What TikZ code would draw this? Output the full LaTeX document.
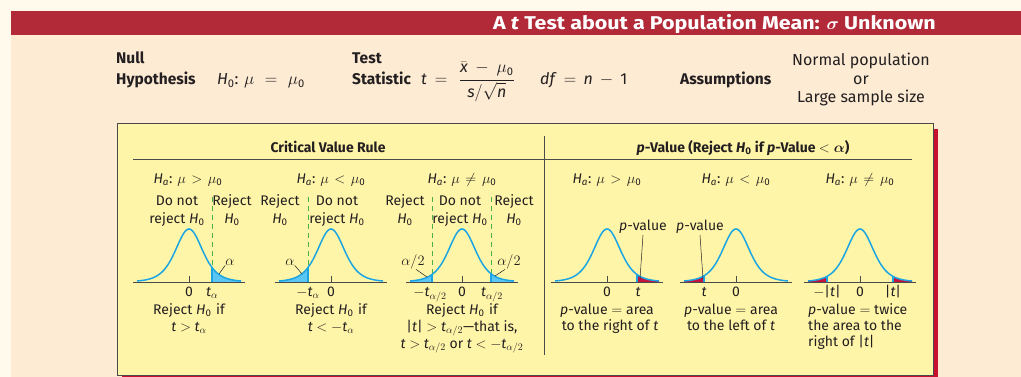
\documentclass[tikz,border=0pt]{standalone}
\usepackage{amsmath}
\usepackage{fontspec}
\setmainfont{Fira Sans}
\newfontfamily\titlefont[FakeStretch=1.16]{Fira Sans}
\definecolor{outerbg}{HTML}{FFFAEC}
\definecolor{peach}{HTML}{FDEBD4}
\definecolor{band}{HTML}{B22A38}
\definecolor{boxy}{HTML}{FFF5A9}
\definecolor{shadowred}{HTML}{C8102E}
\definecolor{curveblue}{HTML}{1BA6E3}
\definecolor{tailblue}{HTML}{5CC6F2}
\definecolor{pred}{HTML}{C4123F}
\definecolor{dgreen}{HTML}{4DAF4A}
\definecolor{ink}{HTML}{231F20}
\definecolor{rulegray}{HTML}{4A4A4A}
\newcommand\Hz{\textit{H}$_{\text{0}}$}
\newcommand\Ha{\textit{H}$_{\textit{a}}$}
\newcommand\mz{\mu_{\text{0}}}
\newcommand\tv{\textit{t}}
\newcommand\xs{\mkern2mu}
\newcommand\bellcurve[2]{\draw[curve] plot[domain=-52:52,samples=81,smooth] ({#1+\x},{#2-bell(\x)});}
\newcommand\tailR[4]{%
 \fill[#4] ({#1+#3},#2) -- plot[domain=#3:52,samples=40] ({#1+\x},{#2-bell(\x)}) -- ({#1+52},#2) -- cycle;}
\newcommand\tailL[4]{%
 \fill[#4] ({#1-52},#2) -- plot[domain=-52:-#3,samples=40] ({#1+\x},{#2-bell(\x)}) -- ({#1-#3},#2) -- cycle;}
\newcommand\edge[3]{\draw[curveblue,line width=1.3pt] ({#1+#3},#2) -- ({#1+#3},{#2-bell(#3)});}
\begin{document}
\begin{tikzpicture}[x=1pt,y=-1pt, font=\fontsize{14}{16}\selectfont, text=ink,
  declare function={bell(\d)=53/(1+(\d)^2/980)^3;},
  curve/.style={curveblue, line width=1.5pt},
  axisline/.style={rulegray, line width=0.9pt},
  greendash/.style={dgreen, line width=0.8pt, dash pattern=on 5pt off 4pt},
  lbl/.style={inner sep=0pt, align=center},
  leader/.style={ink, line width=0.5pt},
  hdr/.style={lbl, font=\fontsize{15.5}{17}\selectfont\bfseries},
  hreg/.style={lbl, font=\fontsize{16}{18}\selectfont}]
\useasboundingbox (0,0) rectangle (1021,377);
% background
\fill[outerbg] (0,0) rectangle (1021,377);
\fill[peach] (11,35) rectangle (1021,377);
\fill[band] (11,11) rectangle (1021,35);
\node[lbl, text=white, anchor=base east, font=\titlefont\fontsize{18.5}{20}\selectfont\bfseries] (title) at (936,30)
  {A \textit{t} Test about a Population Mean: $\boldsymbol{\sigma}$ Unknown};
% header row
\node[hdr, anchor=base west] (null) at (116,63.5) {Null};
\node[hdr, anchor=base west] (hyp) at (116,84.5) {Hypothesis};
\node[hreg, anchor=base west] (h0) at (217,84.5) {\Hz: $\mu \mkern6mu=\mkern6mu \mz$};
\node[hdr, anchor=base west] (test) at (352,63.5) {Test};
\node[hdr, anchor=base west] (stat) at (352,84.5) {Statistic};
\node[hreg, anchor=base west] (formula) at (421,84.5)
  {\tv{} $\mkern4mu=\mkern7mu \dfrac{\bar{\textit{x}} \mkern4mu-\mkern4mu \mz}{\textit{s}/\sqrt{\textit{n}}}$};
\node[hreg, anchor=base west] (df) at (540,84.5) {\textit{df} $\mkern3mu=\mkern3mu$ \textit{n} $\mkern3mu-\mkern3mu$ 1};
\node[hdr, anchor=base west] (assum) at (680,84.5) {Assumptions};
\node[hreg, anchor=base] (as1) at (861,65.5) {Normal population};
\node[hreg, anchor=base] (as2) at (861,84.5) {or};
\node[hreg, anchor=base] (as3) at (861,102.5) {Large sample size};
% box
\fill[shadowred] (122,129) rectangle (938,380);
\draw[fill=boxy, draw=rulegray, line width=1pt] (117,124) rectangle (933,375);
\coordinate (dvt) at (544,136); \coordinate (dvb) at (544,355);
\draw[rulegray, line width=1pt] (dvt) -- (dvb);
\coordinate (hl) at (133,160); \coordinate (hm) at (544,160); \coordinate (hr) at (912,160);
\draw[rulegray, line width=1pt] (hl) -- (hr);
\node[hdr, anchor=base, font=\fontsize{14}{16}\selectfont\bfseries] (cvr) at (328,152.5) {Critical Value Rule};
\node[hdr, anchor=base, font=\fontsize{14}{16}\selectfont\bfseries] (pvr) at (743,152.5)
  {\textit{p}-Value (Reject \textit{H}$_{\text{0}}$ if \textit{p}-Value $<\boldsymbol{\alpha}$)};
% Ha labels
\node[lbl, anchor=base] (ha1) at (188,183.5) {\Ha: $\mu \xs>\xs \mz$};
\node[lbl, anchor=base] (ha2) at (331,183.5) {\Ha: $\mu \xs<\xs \mz$};
\node[lbl, anchor=base] (ha3) at (462,183.5) {\Ha: $\mu \xs\neq\xs \mz$};
\node[lbl, anchor=base] (ha4) at (607,183.5) {\Ha: $\mu \xs>\xs \mz$};
\node[lbl, anchor=base] (ha5) at (736,183.5) {\Ha: $\mu \xs<\xs \mz$};
\node[lbl, anchor=base] (ha6) at (860,183.5) {\Ha: $\mu \xs\neq\xs \mz$};
% region labels
\node[lbl, anchor=base] (dn1a) at (177,205.5) {Do not};
\node[lbl, anchor=base] (dn1b) at (177,223.5) {reject \Hz};
\node[lbl, anchor=base] (rj1a) at (232,205.5) {Reject};
\node[lbl, anchor=base] (rj1b) at (232,223.5) {\Hz};
\node[lbl, anchor=base] (rj2a) at (280,205.5) {Reject};
\node[lbl, anchor=base] (rj2b) at (280,223.5) {\Hz};
\node[lbl, anchor=base] (dn2a) at (337,205.5) {Do not};
\node[lbl, anchor=base] (dn2b) at (337,223.5) {reject \Hz};
\node[lbl, anchor=base] (rj3a) at (405,205.5) {Reject};
\node[lbl, anchor=base] (rj3b) at (405,223.5) {\Hz};
\node[lbl, anchor=base] (dn3a) at (460,205.5) {Do not};
\node[lbl, anchor=base] (dn3b) at (460,223.5) {reject \Hz};
\node[lbl, anchor=base] (rj4a) at (514,205.5) {Reject};
\node[lbl, anchor=base] (rj4b) at (514,223.5) {\Hz};
% dashed lines
\foreach \n/\xx in {d1/212,d2/308,d3/432,d4/491}{
  \coordinate (\n t) at (\xx,197); \coordinate (\n b) at (\xx,282);
  \draw[greendash] (\n t) -- (\n b);}
% critical curves
\tailR{189}{282}{23}{tailblue}
\tailL{331}{282}{23}{tailblue}
\tailL{462}{282}{30}{tailblue}
\tailR{462}{282}{29}{tailblue}
\bellcurve{189}{282}
\bellcurve{331}{282}
\bellcurve{462}{282}
\edge{189}{282}{23}
\edge{331}{282}{-23}
\edge{462}{282}{-30}
\edge{462}{282}{29}
% p-value curves
\tailR{607}{282}{30}{pred}
\tailL{736}{282}{32}{pred}
\tailL{860}{282}{33}{pred}
\tailR{860}{282}{33}{pred}
\bellcurve{607}{282}
\bellcurve{736}{282}
\bellcurve{860}{282}
\edge{607}{282}{30}
\edge{736}{282}{-32}
\edge{860}{282}{-33}
\edge{860}{282}{33}
% axes and ticks
\foreach \n/\c in {a1/189,a2/331,a3/462,a4/607,a5/736,a6/860}{
  \coordinate (\n l) at (\c-56,282); \coordinate (\n r) at (\c+56,282);
  \coordinate (\n t) at (\c,276); \coordinate (\n z) at (\c,282);
  \draw[axisline] (\n l) -- (\n r);
  \draw[axisline] (\n z) -- (\n t);}
% alpha labels
\node[lbl] (al1) at (230,262) {$\alpha$};
\coordinate (al1e) at (219,274);
\draw[leader] (al1.south west) -- (al1e);
\node[lbl] (al2) at (290,262) {$\alpha$};
\coordinate (al2e) at (302,274);
\draw[leader] (al2.south east) -- (al2e);
\node[lbl] (al3) at (413,262) {$\alpha/2$};
\coordinate (al3e) at (427,277);
\draw[leader] ([xshift=3pt]al3.south) -- (al3e);
\node[lbl] (al4) at (509,262) {$\alpha/2$};
\coordinate (al4e) at (495,276);
\draw[leader] ([xshift=-4pt]al4.south) -- (al4e);
% p-value labels
\node[lbl] (pv1) at (643,227) {\textit{p}-value};
\coordinate (pv1e) at (640,279);
\draw[leader] ([yshift=-1pt]pv1.south) -- (pv1e);
\node[lbl] (pv2) at (700,227) {\textit{p}-value};
\coordinate (pv2e) at (703,279);
\draw[leader] ([yshift=-1pt]pv2.south) -- (pv2e);
% tick labels
\node[lbl, anchor=base] (z1) at (189,296.5) {0};
\node[lbl, anchor=base] (t1) at (212,296.5) {\tv$_\alpha$};
\node[lbl, anchor=base] (t2) at (308,296.5) {$-$\tv$_\alpha$};
\node[lbl, anchor=base] (z2) at (331,296.5) {0};
\node[lbl, anchor=base] (t3) at (430,296.5) {$-$\tv$_{\alpha/2}$};
\node[lbl, anchor=base] (z3) at (462,296.5) {0};
\node[lbl, anchor=base] (t4) at (492,296.5) {\tv$_{\alpha/2}$};
\node[lbl, anchor=base] (z4) at (607,296.5) {0};
\node[lbl, anchor=base] (t5) at (638,296.5) {\tv};
\node[lbl, anchor=base] (t6) at (704,296.5) {\tv};
\node[lbl, anchor=base] (z5) at (736,296.5) {0};
\node[lbl, anchor=base] (t7) at (827,296.5) {$-$|\tv|};
\node[lbl, anchor=base] (z6) at (860,296.5) {0};
\node[lbl, anchor=base] (t8) at (893,296.5) {|\tv|};
% rules text
\node[lbl, anchor=base] (r1a) at (189,314.5) {Reject \Hz\hspace{1pt} if};
\node[lbl, anchor=base] (r1b) at (189,331.5) {\tv{} $>$ \tv$_\alpha$};
\node[lbl, anchor=base] (r2a) at (331,314.5) {Reject \Hz\hspace{1pt} if};
\node[lbl, anchor=base] (r2b) at (331,331.5) {\tv{} $<$ $-$\tv$_\alpha$};
\node[lbl, anchor=base] (r3a) at (462,314.5) {Reject \Hz\hspace{1pt} if};
\node[lbl, anchor=base] (r3b) at (462,331) {|\tv| $>$ \tv$_{\alpha/2}$---that is,};
\node[lbl, anchor=base] (r3c) at (462,348) {\tv{} $>$ \tv$_{\alpha/2}$ or \tv{} $<$ $-$\tv$_{\alpha/2}$};
\node[lbl, anchor=base] (p1a) at (607,314) {\textit{p}-value $=$ area};
\node[lbl, anchor=base] (p1b) at (610,330.5) {to the right of \tv};
\node[lbl, anchor=base] (p2a) at (731,314) {\textit{p}-value $=$ area};
\node[lbl, anchor=base] (p2b) at (731,330.5) {to the left of \tv};
\node[lbl, anchor=base west] (p3a) at (808,314) {\textit{p}-value $=$ twice};
\node[lbl, anchor=base west] (p3b) at (808,330.5) {the area to the};
\node[lbl, anchor=base west] (p3c) at (808,346.5) {right of |\tv|};
\end{tikzpicture}
\end{document}
